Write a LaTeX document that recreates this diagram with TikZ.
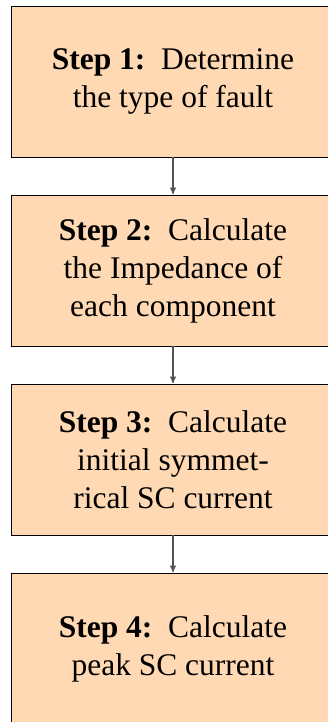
\documentclass[tikz,border=0pt]{standalone}
\usepackage{fontspec}
\setmainfont{LiberationSerif}[Extension=.ttf,UprightFont=*-Regular,BoldFont=*-Bold,
	ItalicFont=*-Italic,BoldItalicFont=*-BoldItalic]
\usetikzlibrary{arrows,positioning}
\definecolor{boxColor}{HTML}{FFD9B3}
\definecolor{arrColor}{HTML}{555555}

\begin{document}
\begin{tikzpicture}[->,>=stealth',shorten >=1pt,semithick,x=1pt,y=1pt,
		stepbox/.style={draw, fill=boxColor, line width=0.8pt, minimum width=324pt,
			minimum height=151pt, align=center, inner sep=0pt, outer sep=0pt,
			font=\fontsize{31.5}{38}\selectfont}]
	\useasboundingbox (0,0) rectangle (327,-722);
	\node[stepbox] (s1) at (173,-81.5) {\textbf{Step 1:}\hspace{0.5em}Determine\\
		the type of fault};
	
	\node[stepbox, below=38pt of s1] (s2) {\textbf{Step 2:}\hspace{0.5em}Calculate\\
		the Impedance of\\
		each component};
	
	\node[stepbox, below=38pt of s2] (s3) {\textbf{Step 3:}\hspace{0.5em}Calculate\\
		initial symmet-\\
		rical SC current};
	
	\node[stepbox, below=38pt of s3] (s4) {\textbf{Step 4:}\hspace{0.5em}Calculate\\
		peak SC current};
	
	\path (s1) edge[draw=arrColor, line width=1.3pt] (s2);
	\path (s2) edge[draw=arrColor, line width=1.3pt] (s3);
	\path (s3) edge[draw=arrColor, line width=1.3pt] (s4);
\end{tikzpicture}
\end{document}
